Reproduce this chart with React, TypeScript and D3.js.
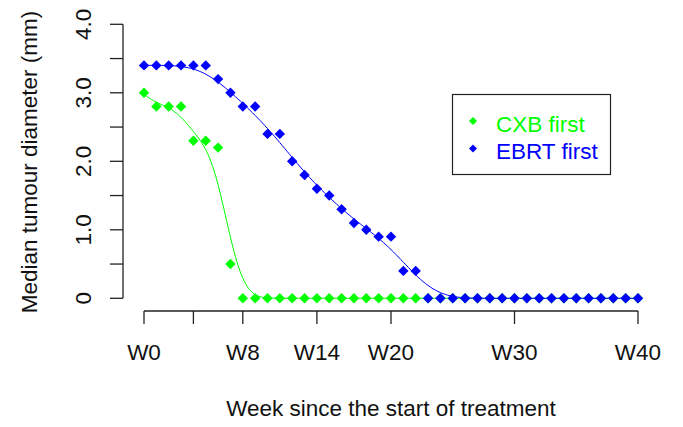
import React from 'react';
import * as d3 from 'd3';

// weeks 0..40
const weeks = d3.range(0, 41);
const cxbFirst = [3.0, 2.8, 2.8, 2.8, 2.3, 2.3, 2.2, 0.5, 0, 0, 0, 0, 0, 0, 0, 0, 0, 0, 0, 0, 0, 0, 0,
  0, 0, 0, 0, 0, 0, 0, 0, 0, 0, 0, 0, 0, 0, 0, 0, 0, 0];
const ebrtFirst = [3.4, 3.4, 3.4, 3.4, 3.4, 3.4, 3.2, 3.0, 2.8, 2.8, 2.4, 2.4, 2.0, 1.8, 1.6, 1.5, 1.3, 1.1, 1.0, 0.9, 0.9, 0.4, 0.4,
  0, 0, 0, 0, 0, 0, 0, 0, 0, 0, 0, 0, 0, 0, 0, 0, 0, 0];
const xTicks = [0, 4, 8, 14, 20, 30, 40];
const xTickLabels = ['W0', '', 'W8', 'W14', 'W20', 'W30', 'W40'];
const yTicks = [0, 0.5, 1, 1.5, 2, 2.5, 3, 3.5, 4];
const yTickLabels = ['0', '', '1.0', '', '2.0', '', '3.0', '', '4.0'];
const seriesNames = ['CXB first', 'EBRT first'];
const seriesColors = ['#00ff00', '#0000ff'];
const smoothSpan = [1.1, 1.7];

const W = 683;
const H = 427;
const font = '"Liberation Sans", Arial, sans-serif';
const fs = 22.5;

const x = d3.scaleLinear().domain([0, 40]).range([144, 638]);
const y = d3.scaleLinear().domain([0, 4]).range([298.3, 24.3]);

// local linear gaussian smoother (loess-ish) over the observed points
function smooth(xs: number[], ys: number[], h: number) {
  const grid = d3.range(0, 40.001, 0.2);
  return grid.map(g => {
    let sw = 0, sx = 0, sy = 0, sxx = 0, sxy = 0;
    xs.forEach((xi, i) => {
      const w = Math.exp(-0.5 * ((xi - g) / h) ** 2);
      sw += w; sx += w * xi; sy += w * ys[i]; sxx += w * xi * xi; sxy += w * xi * ys[i];
    });
    const mx = sx / sw, my = sy / sw;
    const vx = sxx / sw - mx * mx;
    const b = vx > 1e-9 ? (sxy / sw - mx * my) / vx : 0;
    return [g, my + b * (g - mx)] as [number, number];
  });
}

const diamond = (r: number) => `M0,${-r}L${r},0L0,${r}L${-r},0Z`;

export default function App() {
  const series = [cxbFirst, ebrtFirst];
  const line = d3.line<[number, number]>().x(d => x(d[0])).y(d => y(d[1]));

  return (
    <svg width={W} height={H} style={{ position: 'absolute', left: 0, top: 0, background: '#fff' }}
      fontFamily={font}>
      <rect width={W} height={H} fill="#fff" />

      {/* y axis */}
      <line x1={123} x2={123} y1={y(0)} y2={y(4)} stroke="#222" strokeWidth={1.3} />
      {yTicks.map((t, i) => (
        <g key={'yt' + i}>
          <line x1={110} x2={123} y1={y(t)} y2={y(t)} stroke="#222" strokeWidth={1.3} />
          {yTickLabels[i] && (
            <text transform={`translate(90.5,${y(t)}) rotate(-90)`} textAnchor="middle" fontSize={fs} fill="#111">
              {yTickLabels[i]}
            </text>
          )}
        </g>
      ))}
      <text transform={`translate(37,162) rotate(-90)`} textAnchor="middle" fontSize={fs} fill="#111">
        Median tumour diameter (mm)
      </text>

      {/* x axis */}
      <line x1={x(0)} x2={x(40)} y1={311} y2={311} stroke="#222" strokeWidth={1.3} />
      {xTicks.map((t, i) => (
        <g key={'xt' + i}>
          <line x1={x(t)} x2={x(t)} y1={311} y2={324} stroke="#222" strokeWidth={1.3} />
          <text x={x(t)} y={360} textAnchor="middle" fontSize={fs} fill="#111">{xTickLabels[i]}</text>
        </g>
      ))}
      <text x={391} y={416} textAnchor="middle" fontSize={fs} fill="#111">
        Week since the start of treatment
      </text>

      {/* series */}
      {series.map((vals, s) => (
        <g key={'s' + s}>
          {vals.map((v, i) => (
            <path key={i} d={diamond(5.2)} transform={`translate(${x(weeks[i])},${y(v)})`} fill={seriesColors[s]} />
          ))}
          <path d={line(smooth(weeks, vals, smoothSpan[s])) || ''} fill="none" stroke={seriesColors[s]} strokeWidth={1} />
        </g>
      ))}

      {/* legend */}
      <rect x={452.5} y={94.5} width={158} height={80} fill="#fff" stroke="#222" strokeWidth={1.2} />
      {seriesNames.map((n, i) => (
        <g key={'lg' + i}>
          <path d={diamond(4)} transform={`translate(473,${121 + i * 27.5})`} fill={seriesColors[i]} />
          <text x={496} y={131.7 + i * 27} fontSize={fs} fill={seriesColors[i]}>{n}</text>
        </g>
      ))}
    </svg>
  );
}
